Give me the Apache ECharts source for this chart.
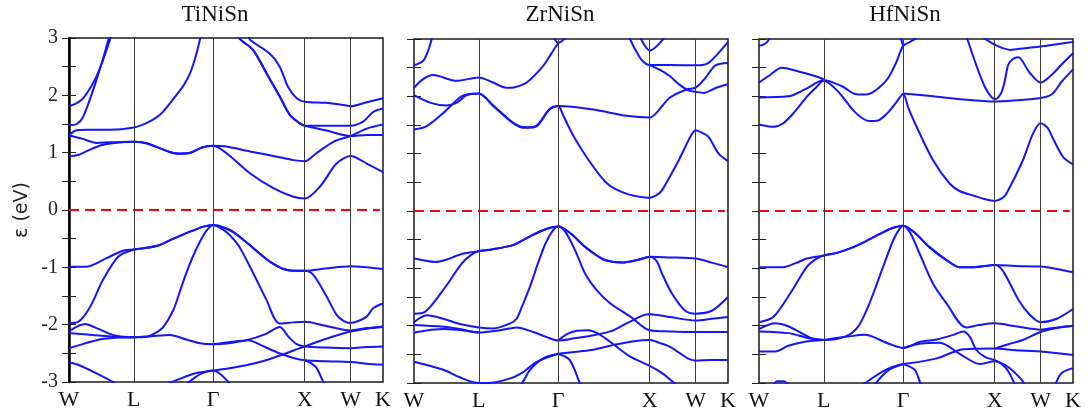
<!DOCTYPE html>
<html><head><meta charset="utf-8">
<script src="https://cdn.jsdelivr.net/npm/echarts@6/dist/echarts.min.js"></script>
<style>html,body{margin:0;padding:0;background:#fff}#c{width:1089px;height:418px}</style>
</head><body><div id="c"></div>
<script>
// ---------- data ----------
const kTicks = [0, 0.707, 1.573, 2.573, 3.073, 3.427];
const kLabels = ['W', 'L', 'Γ', 'X', 'W', 'K'];
const energyTicks = [-3, -2, -1, 0, 1, 2, 3];
const titles = ['TiNiSn', 'ZrNiSn', 'HfNiSn'];
const fermiLevel = 0;

// TiNiSn bands: [k, E(eV)]
const TiNiSn = [
  [[0,0.94],[0.1,0.96],[0.2,1.03],[0.35,1.13],[0.5,1.17],[0.707,1.19],[0.85,1.16],[1.0,1.07],[1.12,1.0],[1.21,0.98],[1.33,1.0],[1.45,1.09],[1.573,1.12],[1.72,0.99],[1.975,0.64],[2.23,0.38],[2.45,0.23],[2.573,0.20],[2.74,0.41],[2.92,0.81],[3.073,0.94],[3.25,0.81],[3.427,0.66]],
  [[0,1.30],[0.15,1.24],[0.3,1.17],[0.45,1.18],[0.707,1.19],[0.85,1.165],[1.0,1.075],[1.12,1.005],[1.21,0.985],[1.33,1.005],[1.45,1.09],[1.573,1.12],[1.7,1.11],[1.975,1.02],[2.27,0.93],[2.45,0.87],[2.573,0.85],[2.70,0.99],[2.885,1.19],[3.073,1.29],[3.25,1.42],[3.427,1.49]],
  [[0,1.30],[0.08,1.39],[0.2,1.40],[0.45,1.40],[0.707,1.44],[0.85,1.52],[0.96,1.62],[1.03,1.72],[1.17,2.0],[1.25,2.17],[1.33,2.42],[1.39,2.72],[1.44,3.05]],
  [[0,1.48],[0.084,1.50],[0.156,1.63],[0.3,2.27],[0.43,2.97],[0.44,3.1]],
  [[0,1.81],[0.08,1.86],[0.156,1.95],[0.3,2.33],[0.447,2.97],[0.455,3.1]],
  [[1.85,3.05],[1.866,2.98],[2.01,2.79],[2.157,2.38],[2.30,1.98],[2.41,1.66],[2.52,1.51],[2.573,1.47],[2.8,1.47],[3.073,1.47],[3.21,1.54],[3.32,1.71],[3.427,1.77]],
  [[1.85,3.05],[1.866,2.98],[2.01,2.79],[2.157,2.38],[2.30,1.98],[2.41,1.66],[2.52,1.51],[2.573,1.47],[2.8,1.39],[3.073,1.29],[3.25,1.31],[3.427,1.31]],
  [[1.96,3.05],[1.975,2.97],[2.19,2.73],[2.30,2.5],[2.39,2.15],[2.485,1.95],[2.573,1.89],[2.8,1.87],[3.0,1.83],[3.073,1.81],[3.25,1.88],[3.427,1.95]],
  [[0,-0.99],[0.19,-0.99],[0.3,-0.93],[0.41,-0.84],[0.59,-0.71],[0.707,-0.69],[0.85,-0.66],[0.99,-0.61],[1.1,-0.53],[1.21,-0.45],[1.35,-0.36],[1.466,-0.29],[1.573,-0.26],[1.68,-0.30],[1.79,-0.38],[1.95,-0.58],[2.08,-0.76],[2.2,-0.91],[2.34,-1.03],[2.45,-1.06],[2.573,-1.06],[2.8,-1.02],[3.073,-0.98],[3.25,-1.0],[3.427,-1.03]],
  [[0,-1.97],[0.10,-1.95],[0.23,-1.69],[0.37,-1.22],[0.54,-0.81],[0.707,-0.69],[0.85,-0.66],[0.99,-0.61],[1.1,-0.53],[1.21,-0.45],[1.35,-0.36],[1.466,-0.29],[1.573,-0.26],[1.68,-0.30],[1.79,-0.38],[1.95,-0.58],[2.08,-0.76],[2.2,-0.91],[2.34,-1.03],[2.45,-1.06],[2.573,-1.06],[2.666,-1.13],[2.812,-1.51],[2.921,-1.83],[3.0,-1.94],[3.073,-1.97],[3.15,-1.94],[3.249,-1.86],[3.321,-1.71],[3.427,-1.63]],
  [[0,-2.12],[0.08,-2.04],[0.175,-1.99],[0.3,-2.06],[0.5,-2.19],[0.707,-2.22],[0.85,-2.21],[0.95,-2.14],[1.03,-2.04],[1.14,-1.74],[1.21,-1.42],[1.28,-1.10],[1.35,-0.82],[1.43,-0.55],[1.5,-0.36],[1.573,-0.26],[1.65,-0.31],[1.73,-0.40],[1.85,-0.62],[2.01,-1.10],[2.15,-1.55],[2.30,-1.98],[2.45,-1.96],[2.573,-1.95],[2.8,-2.02],[3.073,-2.10],[3.25,-2.06],[3.427,-2.03]],
  [[0,-2.15],[0.2,-2.17],[0.5,-2.21],[0.707,-2.22],[0.9,-2.20],[1.1,-2.18],[1.28,-2.26],[1.45,-2.33],[1.573,-2.34],[1.72,-2.33],[1.94,-2.27],[2.15,-2.16],[2.30,-2.04],[2.40,-2.22],[2.485,-2.34],[2.573,-2.38],[2.8,-2.40],[3.073,-2.41],[3.25,-2.39],[3.427,-2.38]],
  [[1.573,-2.34],[1.72,-2.31],[1.957,-2.27],[2.1,-2.36],[2.28,-2.49],[2.45,-2.58],[2.573,-2.62],[2.8,-2.64],[3.073,-2.65],[3.25,-2.68],[3.427,-2.70]],
  [[1.05,-3.05],[1.2,-2.95],[1.4,-2.84],[1.573,-2.80],[1.75,-2.76],[1.957,-2.70],[2.15,-2.62],[2.32,-2.53],[2.45,-2.45],[2.573,-2.38],[2.8,-2.25],[3.073,-2.12],[3.25,-2.07],[3.427,-2.04]],
  [[1.28,-3.05],[1.35,-2.95],[1.45,-2.85],[1.573,-2.80],[1.65,-2.86],[1.74,-3.0],[1.76,-3.05]],
  [[0,-2.41],[0.15,-2.34],[0.30,-2.27],[0.5,-2.23],[0.707,-2.22]],
  [[0,-2.66],[0.1,-2.70],[0.3,-2.85],[0.48,-3.0],[0.52,-3.05]],
  [[2.573,-2.62],[2.64,-2.67],[2.70,-2.75],[2.775,-3.0],[2.79,-3.05]]
];

// ZrNiSn bands
const ZrNiSn = [
  [[0,1.42],[0.138,1.48],[0.32,1.71],[0.5,1.98],[0.6,2.04],[0.707,2.05],[0.865,1.83],[1.05,1.57],[1.15,1.47],[1.23,1.45],[1.34,1.48],[1.48,1.77],[1.573,1.83],[1.63,1.66],[1.74,1.31],[1.905,0.89],[2.087,0.51],[2.2,0.38],[2.34,0.29],[2.46,0.25],[2.573,0.23],[2.65,0.28],[2.706,0.36],[2.89,0.885],[2.997,1.235],[3.073,1.41],[3.15,1.36],[3.216,1.29],[3.325,1.00],[3.427,0.87]],
  [[0,2.02],[0.175,1.89],[0.35,1.84],[0.47,1.89],[0.575,2.02],[0.707,2.05],[0.865,1.84],[1.05,1.58],[1.15,1.48],[1.23,1.46],[1.34,1.49],[1.48,1.78],[1.573,1.83],[1.957,1.77],[2.32,1.66],[2.573,1.63],[2.65,1.72],[2.794,1.98],[2.976,2.12],[3.073,2.15],[3.17,2.3],[3.28,2.53],[3.35,2.57],[3.427,2.58]],
  [[0,2.15],[0.1,2.30],[0.21,2.37],[0.466,2.27],[0.707,2.33],[0.85,2.25],[1.01,2.15],[1.1,2.16],[1.23,2.24],[1.41,2.53],[1.5,2.75],[1.573,2.92],[1.62,2.97],[1.67,3.05]],
  [[1.52,3.05],[1.55,2.96],[1.573,2.92]],
  [[0,2.54],[0.1,2.62],[0.157,2.81],[0.193,3.0],[0.2,3.05]],
  [[2.34,3.05],[2.36,2.99],[2.42,2.80],[2.487,2.63],[2.573,2.545],[2.8,2.545],[3.073,2.54],[3.2,2.57],[3.32,2.75],[3.427,2.95]],
  [[2.46,3.05],[2.53,2.86],[2.573,2.80],[2.64,2.86],[2.72,3.0],[2.74,3.05]],
  [[2.573,2.545],[2.7,2.45],[2.794,2.35],[2.9,2.2],[3.0,2.10],[3.073,2.08],[3.16,2.06],[3.3,2.15],[3.427,2.21]],
  [[0,-0.83],[0.1,-0.86],[0.23,-0.89],[0.35,-0.85],[0.52,-0.75],[0.707,-0.70],[0.85,-0.67],[1.07,-0.60],[1.2,-0.50],[1.32,-0.40],[1.45,-0.31],[1.573,-0.27],[1.7,-0.38],[1.87,-0.63],[2.0,-0.78],[2.09,-0.86],[2.27,-0.90],[2.45,-0.85],[2.573,-0.80],[2.8,-0.81],[3.073,-0.83],[3.25,-0.90],[3.427,-0.98]],
  [[0,-1.79],[0.12,-1.76],[0.34,-1.33],[0.52,-0.92],[0.62,-0.77],[0.707,-0.70],[0.85,-0.67],[1.07,-0.60],[1.2,-0.50],[1.32,-0.40],[1.45,-0.31],[1.573,-0.27],[1.7,-0.38],[1.87,-0.63],[2.0,-0.78],[2.09,-0.86],[2.27,-0.90],[2.45,-0.85],[2.573,-0.80],[2.65,-0.88],[2.706,-1.09],[2.815,-1.44],[2.96,-1.74],[3.073,-1.79],[3.25,-1.74],[3.427,-1.50]],
  [[0,-1.94],[0.14,-1.82],[0.32,-1.88],[0.5,-1.97],[0.707,-2.03],[0.865,-2.05],[1.05,-1.96],[1.12,-1.88],[1.175,-1.68],[1.27,-1.30],[1.36,-0.88],[1.44,-0.55],[1.52,-0.33],[1.573,-0.27],[1.65,-0.36],[1.76,-0.69],[1.87,-1.1],[1.994,-1.38],[2.14,-1.61],[2.36,-1.84],[2.573,-2.08],[2.8,-2.10],[3.073,-2.11],[3.427,-2.11]],
  [[0,-1.99],[0.32,-2.02],[0.5,-2.06],[0.707,-2.12],[0.94,-2.08],[1.12,-2.03],[1.30,-2.11],[1.45,-2.2],[1.573,-2.26],[1.75,-2.22],[1.885,-2.19],[2.14,-2.10],[2.32,-1.96],[2.5,-1.82],[2.573,-1.80],[2.8,-1.85],[3.073,-1.91],[3.25,-1.88],[3.427,-1.85]],
  [[1.573,-2.26],[1.68,-2.14],[1.78,-2.09],[1.90,-2.08],[2.0,-2.13],[2.14,-2.28],[2.36,-2.54],[2.573,-2.70],[2.7,-2.82],[2.84,-3.0],[2.87,-3.05]],
  [[1.573,-2.49],[1.8,-2.45],[1.957,-2.42],[2.2,-2.33],[2.4,-2.27],[2.573,-2.25],[2.68,-2.30],[2.794,-2.37],[2.92,-2.5],[3.0,-2.58],[3.073,-2.61],[3.25,-2.60],[3.427,-2.60]],
  [[0,-2.12],[0.32,-2.06],[0.707,-2.12]],
  [[0,-2.63],[0.32,-2.77],[0.5,-2.90],[0.66,-2.99],[0.8,-3.0],[1.05,-2.92],[1.2,-2.8],[1.34,-2.63],[1.573,-2.49]],
  [[1.157,-3.05],[1.2,-2.95],[1.266,-2.77],[1.41,-2.57],[1.573,-2.49]],
  [[1.573,-2.49],[1.70,-2.60],[1.81,-3.0],[1.83,-3.05]]
];

// HfNiSn bands
const HfNiSn = [
  [[0,1.51],[0.156,1.47],[0.265,1.53],[0.4,1.75],[0.52,1.99],[0.62,2.15],[0.707,2.27],[0.865,2.08],[1.05,1.72],[1.2,1.57],[1.3,1.58],[1.41,1.72],[1.5,1.9],[1.573,2.04],[1.63,1.8],[1.72,1.47],[1.90,0.885],[2.08,0.48],[2.2,0.34],[2.34,0.27],[2.46,0.21],[2.573,0.175],[2.65,0.22],[2.70,0.30],[2.88,0.885],[2.99,1.35],[3.073,1.53],[3.15,1.45],[3.21,1.26],[3.32,0.94],[3.427,0.815]],
  [[0,1.98],[0.32,2.0],[0.5,2.12],[0.707,2.28],[0.9,2.18],[1.05,2.04],[1.15,2.03],[1.23,2.06],[1.33,2.18],[1.41,2.32],[1.5,2.6],[1.573,2.88],[1.65,2.95],[1.75,3.05]],
  [[1.54,3.05],[1.56,2.95],[1.573,2.88]],
  [[0,2.24],[0.1,2.35],[0.25,2.50],[0.465,2.42],[0.6,2.36],[0.707,2.30]],
  [[0,2.88],[0.06,2.91],[0.1,2.97],[0.12,3.05]],
  [[1.573,2.05],[1.9,2.0],[2.2,1.95],[2.573,1.91],[2.8,1.93],[3.073,1.97],[3.2,2.04],[3.3,2.25],[3.427,2.47]],
  [[2.26,3.05],[2.28,2.97],[2.37,2.55],[2.46,2.18],[2.52,2.02],[2.573,1.95],[2.64,2.05],[2.68,2.25],[2.72,2.55],[2.77,2.65],[2.83,2.68],[2.95,2.42],[3.073,2.24],[3.21,2.40],[3.3,2.55],[3.427,2.75]],
  [[2.45,3.02],[2.5,2.97],[2.573,2.90],[2.66,2.84],[2.74,2.81],[2.9,2.84],[3.073,2.87],[3.25,2.91],[3.427,2.95]],
  [[0,-0.98],[0.265,-0.98],[0.4,-0.91],[0.52,-0.83],[0.707,-0.775],[0.85,-0.73],[1.03,-0.63],[1.2,-0.50],[1.32,-0.40],[1.45,-0.30],[1.573,-0.256],[1.7,-0.38],[1.86,-0.63],[2.05,-0.86],[2.19,-0.98],[2.35,-0.98],[2.573,-0.94],[2.8,-0.96],[3.073,-0.97],[3.25,-1.01],[3.427,-1.07]],
  [[0,-1.94],[0.156,-1.85],[0.34,-1.44],[0.52,-0.98],[0.62,-0.84],[0.707,-0.775],[0.85,-0.73],[1.03,-0.63],[1.2,-0.50],[1.32,-0.40],[1.45,-0.30],[1.573,-0.256],[1.7,-0.38],[1.86,-0.63],[2.05,-0.86],[2.19,-0.98],[2.35,-0.98],[2.573,-0.94],[2.66,-1.04],[2.84,-1.57],[2.95,-1.8],[3.073,-1.94],[3.25,-1.88],[3.427,-1.71]],
  [[0,-2.06],[0.175,-1.96],[0.32,-2.01],[0.575,-2.22],[0.707,-2.25],[0.94,-2.19],[1.08,-2.02],[1.19,-1.67],[1.28,-1.30],[1.36,-0.95],[1.465,-0.51],[1.53,-0.32],[1.573,-0.256],[1.65,-0.38],[1.755,-0.75],[1.90,-1.27],[2.05,-1.62],[2.26,-2.03],[2.4,-1.99],[2.573,-1.96],[2.8,-2.01],[3.073,-2.07],[3.25,-2.03],[3.427,-2.0]],
  [[0,-2.10],[0.32,-2.13],[0.55,-2.22],[0.707,-2.25]],
  [[0,-2.45],[0.175,-2.45],[0.32,-2.35],[0.5,-2.28],[0.707,-2.25]],
  [[0.707,-2.25],[0.97,-2.19],[1.15,-2.16],[1.41,-2.31],[1.573,-2.39],[1.76,-2.28],[1.94,-2.24],[2.12,-2.16],[2.23,-2.10],[2.30,-2.19],[2.37,-2.42],[2.47,-2.55],[2.573,-2.60],[2.72,-2.72],[2.87,-2.95],[2.9,-3.05]],
  [[1.573,-2.39],[1.77,-2.31],[1.97,-2.30],[2.19,-2.49],[2.41,-2.67],[2.573,-2.62],[2.7,-2.75],[2.8,-3.05]],
  [[1.573,-2.67],[1.94,-2.57],[2.23,-2.41],[2.573,-2.40],[2.8,-2.43],[3.073,-2.45],[3.427,-2.51]],
  [[2.573,-2.40],[2.73,-2.32],[2.88,-2.25],[3.073,-2.11],[3.25,-2.04],[3.427,-2.0]],
  [[1.12,-3.05],[1.25,-2.9],[1.41,-2.75],[1.573,-2.67]],
  [[1.25,-3.05],[1.41,-2.78],[1.573,-2.67]],
  [[1.573,-2.67],[1.70,-2.77],[1.76,-3.0],[1.78,-3.05]],
  [[3.23,-3.05],[3.30,-2.83],[3.427,-2.74]],
  [[0.15,-3.05],[0.2,-2.97],[0.27,-2.97],[0.33,-3.05]]
];

const panelBands = [TiNiSn, ZrNiSn, HfNiSn];

// ---------- layout / style ----------
const gridLefts = [69, 414, 759];
const gridTops = [38, 39, 39];
const gridW = 314, gridH = 344;
const bandColor = '#1414ff';
const serif = '"Liberation Serif", "Times New Roman", serif';

const chart = echarts.init(document.getElementById('c'), null, {renderer: 'canvas'});
const grids = [], xAxes = [], yAxes = [], series = [], graphics = [];

const kMax = kTicks[kTicks.length - 1];
function kLabel(v) {
  let best = 0;
  for (let i = 0; i < kTicks.length; i++) if (Math.abs(kTicks[i] - v) < Math.abs(kTicks[best] - v)) best = i;
  return kLabels[best];
}

for (let p = 0; p < 3; p++) {
  grids.push({left: gridLefts[p], top: gridTops[p], width: gridW, height: gridH,
    show: true, borderColor: '#1a1a1a', borderWidth: 1.5, backgroundColor: 'transparent'});
  xAxes.push({type: 'value', gridIndex: p, min: 0, max: kMax,
    axisLine: {show: false}, axisTick: {show: false}, splitLine: {show: false},
    axisLabel: {show: true, customValues: kTicks, formatter: kLabel, margin: 7,
      fontFamily: serif, fontSize: 22, color: '#111'}});
  const yl = {type: 'value', gridIndex: p, min: energyTicks[0], max: energyTicks[energyTicks.length - 1], interval: 0.5,
    position: 'left',
    axisLine: {show: p === 0, onZero: false, lineStyle: {color: '#000', width: 2.5}},
    axisTick: {show: true, inside: true, length: 7, lineStyle: {color: '#222', width: 1}},
    splitLine: {show: false},
    axisLabel: {show: p === 0, margin: 11, fontFamily: serif, fontSize: 20, color: '#222',
      formatter: v => (Math.abs(v - Math.round(v)) < 1e-6 ? String(Math.round(v)) : '')}};
  if (p === 0) {
    yl.name = 'ε (eV)';
    yl.nameLocation = 'middle';
    yl.nameGap = 37;
    yl.nameRotate = 90;
    yl.nameTextStyle = {fontFamily: '"DejaVu Sans", sans-serif', fontSize: 19, color: '#222'};
  }
  yAxes.push(yl);
  yAxes.push({type: 'value', gridIndex: p, min: energyTicks[0], max: energyTicks[energyTicks.length - 1], interval: 0.5,
    position: 'right', axisLine: {show: false},
    axisTick: {show: true, inside: true, length: 7, lineStyle: {color: '#222', width: 1}},
    splitLine: {show: false}, axisLabel: {show: false}});

  series.push({type: 'line', xAxisIndex: p, yAxisIndex: 2 * p, data: [], silent: true, z: 1,
    markLine: {silent: true, symbol: ['none', 'none'], label: {show: false}, animation: false,
      lineStyle: {color: '#3a3a3a', width: 1, type: 'solid'},
      data: kTicks.slice(1, kTicks.length - 1).map(v => ({xAxis: v}))}});
  series.push({type: 'line', xAxisIndex: p, yAxisIndex: 2 * p, z: 2, silent: true, showSymbol: false,
    data: [[0, fermiLevel], [kMax * 0.99, fermiLevel]],
    lineStyle: {color: '#ff0000', width: 2, type: [10, 6]}});
  panelBands[p].forEach(b => {
    series.push({type: 'line', xAxisIndex: p, yAxisIndex: 2 * p, z: 3, silent: true,
      showSymbol: false, symbol: 'none', smooth: 0.3, clip: true,
      data: b, lineStyle: {color: bandColor, width: 2}});
  });

  graphics.push({type: 'text', x: gridLefts[p] + gridW / 2 - 11, y: 15,
    style: {text: titles[p], font: '23px ' + serif, fill: '#111', textAlign: 'center', textVerticalAlign: 'middle'}});
}

chart.setOption({
  animation: false,
  backgroundColor: '#fff',
  grid: grids, xAxis: xAxes, yAxis: yAxes, series: series, graphic: graphics
});
</script></body></html>
